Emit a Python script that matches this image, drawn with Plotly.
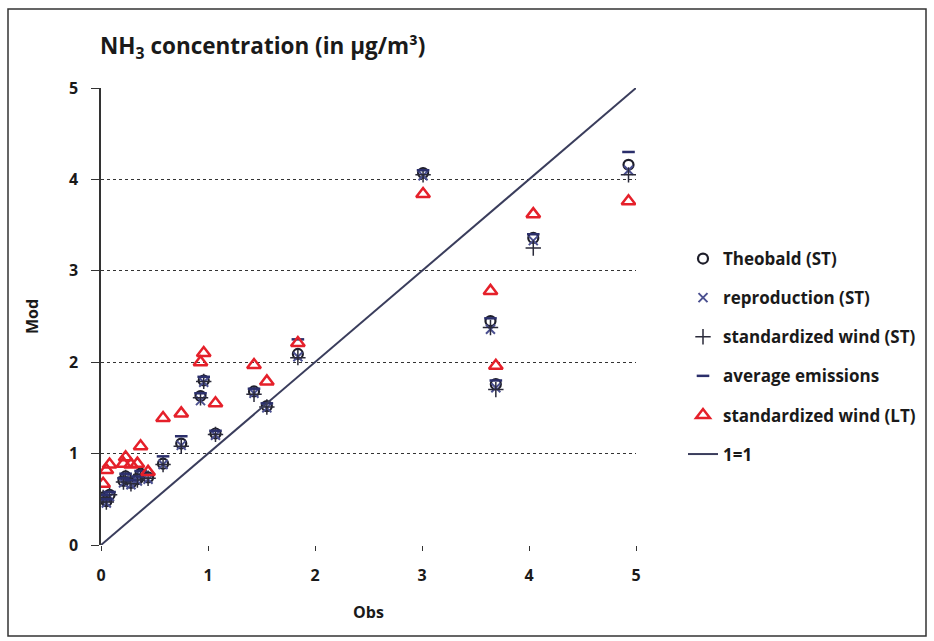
import plotly.graph_objects as go

obs = [0.02, 0.05, 0.08, 0.21, 0.23, 0.28, 0.34, 0.37, 0.44, 0.58, 0.75, 0.93, 0.96, 1.07, 1.43, 1.55, 1.84, 3.01, 3.64, 3.69, 4.04, 4.93]
theobald = [0.52, 0.48, 0.55, 0.70, 0.75, 0.68, 0.72, 0.78, 0.74, 0.89, 1.11, 1.63, 1.80, 1.22, 1.68, 1.52, 2.09, 4.07, 2.45, 1.76, 3.36, 4.16]
reproduction = [0.50, 0.46, 0.53, 0.68, 0.73, 0.66, 0.70, 0.76, 0.72, 0.88, 1.09, 1.58, 1.78, 1.20, 1.66, 1.50, 2.06, 4.04, 2.36, 1.72, 3.33, 4.10]
std_wind_st = [0.52, 0.47, 0.55, 0.69, 0.74, 0.67, 0.71, 0.77, 0.73, 0.88, 1.08, 1.61, 1.79, 1.21, 1.65, 1.51, 2.05, 4.05, 2.38, 1.70, 3.25, 4.05]
avg_emissions = [0.55, 0.50, 0.58, 0.73, 0.78, 0.71, 0.75, 0.81, 0.77, 0.97, 1.19, 1.66, 1.84, 1.25, 1.71, 1.55, 2.25, 4.10, 2.48, 1.80, 3.40, 4.30]
std_wind_lt = [0.67, 0.82, 0.88, 0.89, 0.96, 0.88, 0.89, 1.08, 0.80, 1.39, 1.44, 2.00, 2.10, 1.55, 1.97, 1.79, 2.21, 3.84, 2.78, 1.96, 3.62, 3.76]
line_11 = [0, 5]

fig = go.Figure()
font_fam = "Open Sans, sans-serif"
txt = "#1a1a1a"

fig.add_trace(go.Scatter(x=obs, y=theobald, mode="markers", name="Theobald (ST)", legendgroup="a",
                         marker=dict(symbol="circle-open", size=10, color="#1e1e2a", line=dict(width=2.2, color="#1e1e2a"))))
fig.add_trace(go.Scatter(x=obs, y=reproduction, mode="markers", name="reproduction (ST)", legendgroup="b",
                         marker=dict(symbol="x-thin-open", size=9, color="#4b5090", line=dict(width=2, color="#4b5090"))))
fig.add_trace(go.Scatter(x=obs, y=std_wind_st, mode="markers", name="standardized wind (ST)", legendgroup="c",
                         marker=dict(symbol="cross-thin-open", size=11, color="#2a2a3a", line=dict(width=1.5, color="#2a2a3a"))))
fig.add_trace(go.Scatter(x=obs, y=avg_emissions, mode="markers", name="average emissions", legendgroup="d",
                         marker=dict(symbol="line-ew-open", size=9, color="#2b2f6b", line=dict(width=2.5, color="#2b2f6b"))))
fig.add_trace(go.Scatter(x=obs, y=std_wind_lt, mode="markers", name="standardized wind (LT)", legendgroup="e",
                         marker=dict(symbol="triangle-up-open", size=12, color="#e5202a", line=dict(width=2.5, color="#e5202a"))))
fig.add_trace(go.Scatter(x=line_11, y=line_11, mode="lines", name="1=1", legendgroup="f",
                         line=dict(color="#3a3d5c", width=2)))

L, R, T, B = 101, 636, 88, 545
W, H = 934, 641

def px(x):
    return (x - L) / (R - L)

def py(y):
    return (B - y) / (B - T)

fig.update_layout(
    width=W, height=H,
    margin=dict(l=L, r=W - R, t=T, b=H - B),
    paper_bgcolor="white", plot_bgcolor="white",
    font=dict(family=font_fam, color=txt),
    title=dict(text="NH<sub>3</sub> concentration (in µg/m³)", x=100 / W, xanchor="left",
               y=1 - 46 / H, yanchor="middle", font=dict(size=22.5, family=font_fam, color=txt, weight="bold")),
    legend=dict(x=px(683), xanchor="left", y=py(241), yanchor="top", traceorder="grouped",
                tracegroupgap=14, font=dict(size=17, family=font_fam, color=txt, weight="bold"),
                bgcolor="rgba(0,0,0,0)", itemwidth=30),
    showlegend=True,
    shapes=[dict(type="rect", xref="paper", yref="paper", x0=px(8), x1=px(926), y0=py(636), y1=py(9),
                 line=dict(color="#333333", width=1.5), fillcolor="rgba(0,0,0,0)", layer="below")],
)

fig.update_xaxes(range=[0, 5], tickvals=[0, 1, 2, 3, 4, 5], showgrid=False, zeroline=False, showline=False,
                 ticks="outside", ticklen=5, tickcolor="#333", tickwidth=1, ticklabelstandoff=11,
                 tickfont=dict(size=16, family=font_fam, color=txt, weight="bold"),
                 title=dict(text="Obs", font=dict(size=16, family=font_fam, color=txt, weight="bold"), standoff=21))
fig.update_yaxes(range=[0, 5], tickvals=[0, 1, 2, 3, 4, 5], showgrid=True, gridcolor="#333333", griddash="dot",
                 gridwidth=1, zeroline=False, showline=True, linecolor="#333333", linewidth=1.5,
                 ticks="outside", ticklen=8, tickcolor="#333", tickwidth=1, ticklabelstandoff=10,
                 tickfont=dict(size=16, family=font_fam, color=txt, weight="bold"),
                 title=dict(text="Mod", font=dict(size=16, family=font_fam, color=txt, weight="bold"), standoff=26))

fig.write_html("out.html")
